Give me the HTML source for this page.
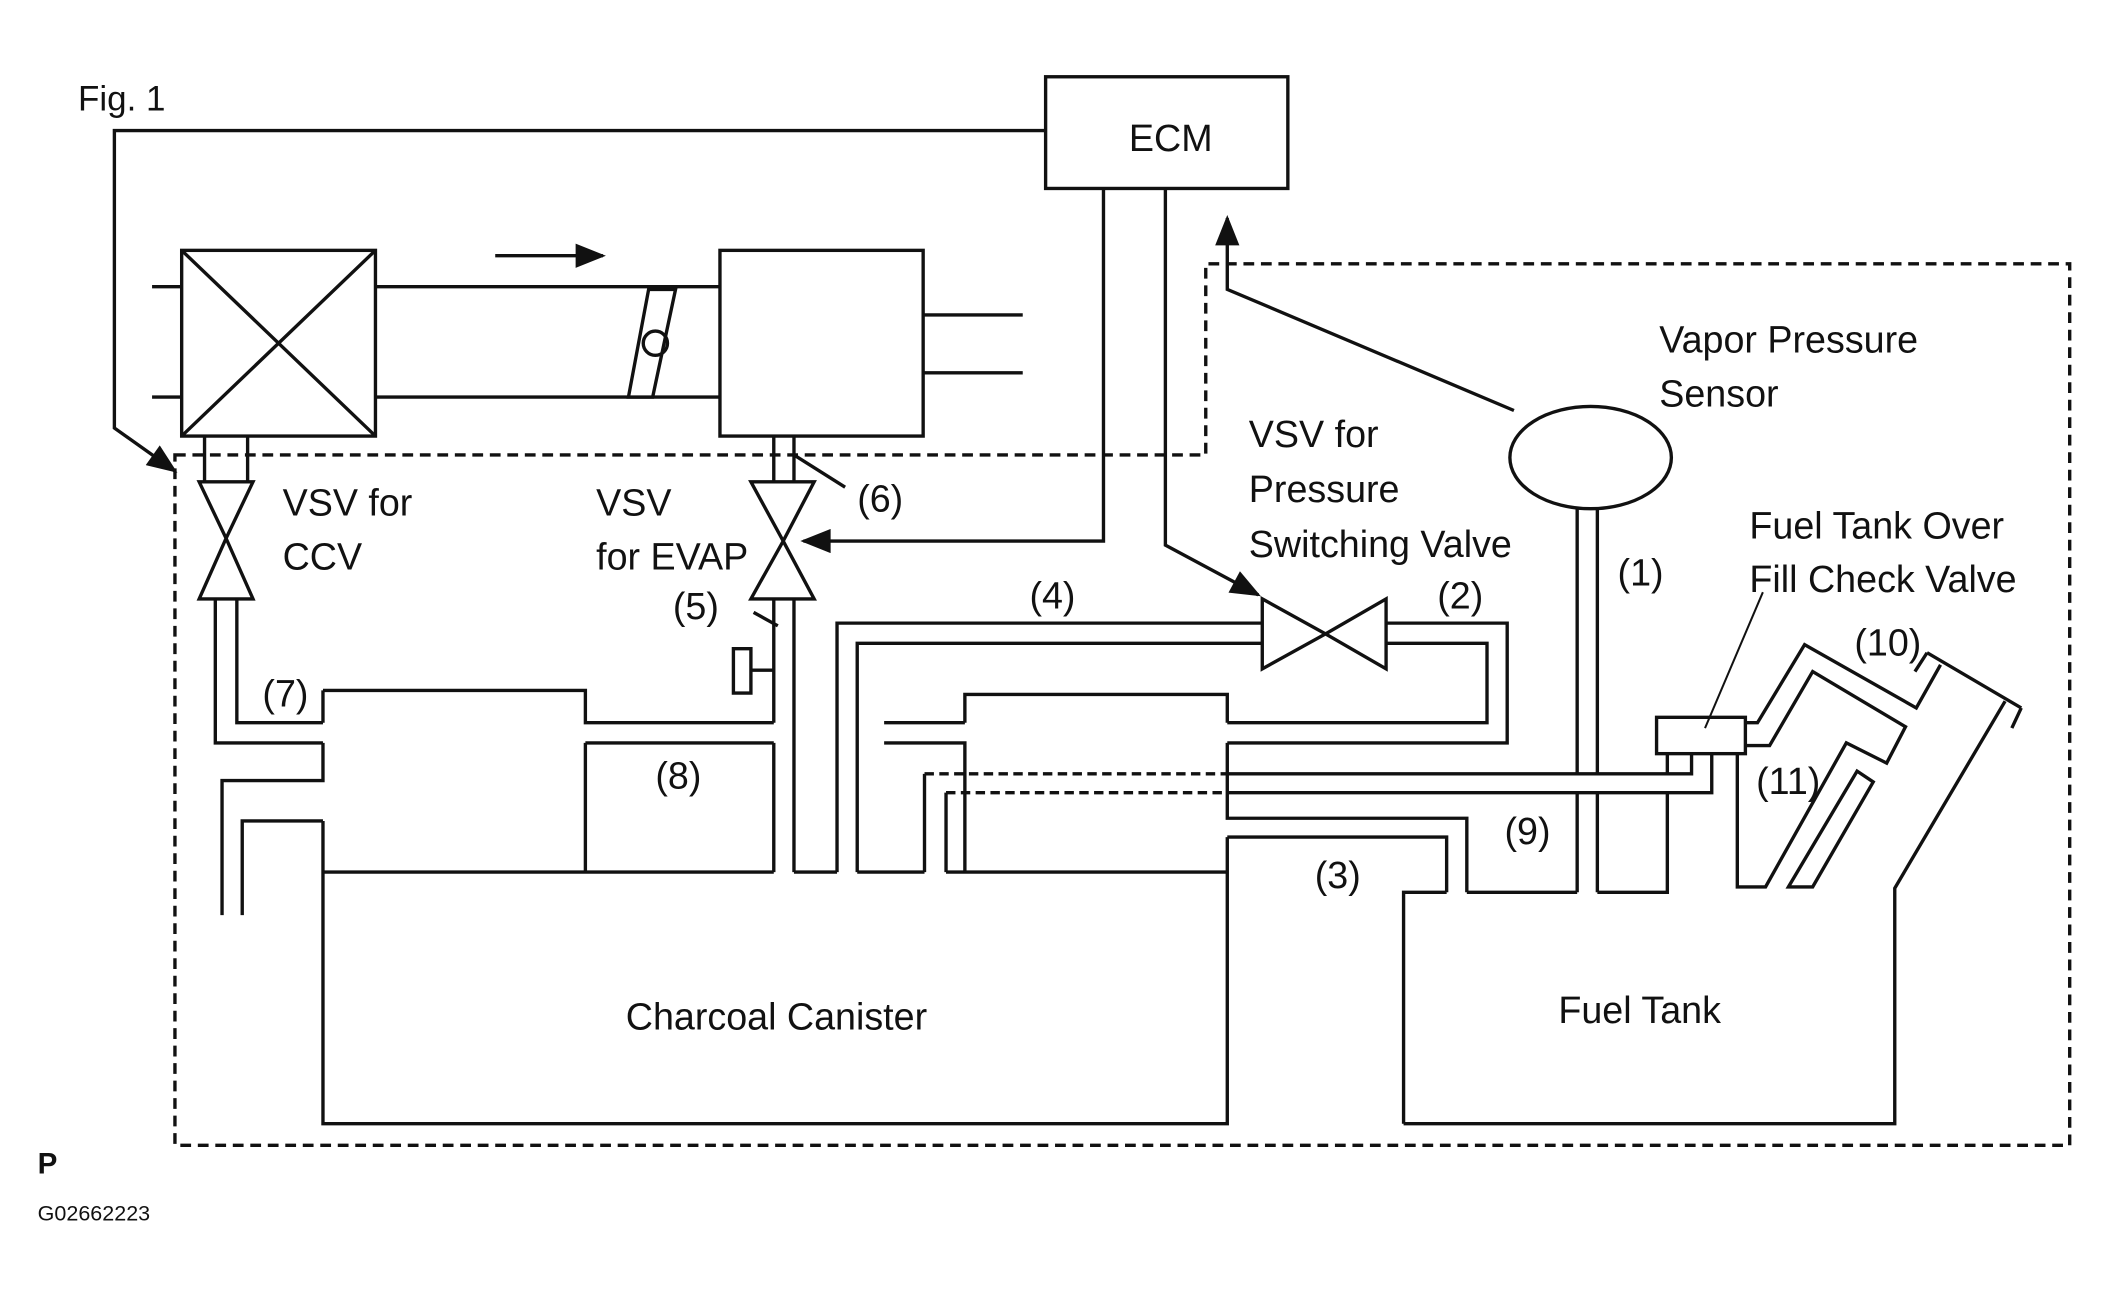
<!DOCTYPE html>
<html><head><meta charset="utf-8"><style>
html,body{margin:0;padding:0;background:#fff}
svg{display:block}
text{font-family:"Liberation Sans",Arial,sans-serif;fill:#111}
</style></head><body>
<svg width="2102" height="1292" viewBox="0 0 1562 960" xmlns="http://www.w3.org/2000/svg">
<defs>
<marker id="b" viewBox="0 0 10 8" refX="9" refY="4" markerWidth="30" markerHeight="18" orient="auto" markerUnits="userSpaceOnUse"><path d="M0,0 L10,4 L0,8 z" fill="#111"/></marker></defs>
<g fill="none" stroke="#111" stroke-width="2.5">
<path d="M130,338 L896,338 L896,196 L1538,196 L1538,851 L130,851 Z" stroke-dasharray="8,5"/>
<rect x="777" y="57" width="180" height="83"/>
<path d="M777,97 L85,97 L85,318 L130,350" marker-end="url(#b)"/>
<path d="M820,140 L820,402 L597,402" marker-end="url(#b)"/>
<path d="M866,140 L866,405 L935,442" marker-end="url(#b)"/>
<path d="M1125,305 L912,215 L912,162" marker-end="url(#b)"/>
<rect x="135" y="186" width="144" height="138" fill="#fff"/>
<path d="M135,186 L279,324 M279,186 L135,324 M113,213 L135,213 M113,295 L135,295"/>
<path d="M279,213 L535,213 M279,295 L535,295"/>
<path d="M368,190 L448,190" marker-end="url(#b)"/>
<path d="M482,215 L502,215 L485,295 L467,295 Z" fill="#fff"/>
<circle cx="487" cy="255" r="9"/>
<rect x="535" y="186" width="151" height="138" fill="#fff"/>
<path d="M686,234 L760,234 M686,277 L760,277"/>
<path d="M152,324 L152,358 M184,324 L184,358"/>
<path d="M148,358 L188,358 L168,400 Z M168,400 L148,445 L188,445 Z"/>
<path d="M160,445 L160,552 L240,552 M176,445 L176,537 L240,537"/>
<path d="M575,324 L575,358 M590,324 L590,358"/>
<path d="M558,358 L605,358 L582,402 Z M582,402 L558,445 L605,445 Z"/>
<path d="M575,445 L575,537 M590,445 L590,648 M575,552 L575,648"/>
<path d="M575,498 L558,498 M545,482 L558,482 L558,515 L545,515 Z"/>
<path d="M560,455 L578,465"/>
<path d="M590,338 L628,362"/>
<path d="M240,513 L435,513 L435,537 L575,537 M435,552 L575,552 M435,552 L435,648"/>
<path d="M240,513 L240,537 M240,552 L240,580 L165,580 L165,680 M240,610 L180,610 L180,680 M240,610 L240,835 L912,835 L912,622"/>
<path d="M240,648 L575,648 M590,648 L622,648 M637,648 L687,648 M703,648 L912,648"/>
<path d="M622,648 L622,463 L938,463 M637,648 L637,478 L938,478"/>
<path d="M938,445 L938,497 L985,471 Z M1030,445 L1030,497 L985,471 Z"/>
<path d="M1030,463 L1120,463 L1120,552 L912,552 M1030,478 L1105,478 L1105,537 L912,537"/>
<path d="M717,537 L717,516 L912,516 L912,537 M657,537 L717,537 M657,552 L717,552 L717,648"/>
<path d="M687,648 L687,575 M703,648 L703,589"/>
<path d="M687,575 L912,575 M703,589 L912,589" stroke-dasharray="7,4"/>
<path d="M912,575 L1239,575 L1239,560 M1257,560 L1257,575 L1239,575 M912,589 L1272,589 L1272,560"/>
<path d="M912,552 L912,608 L1090,608 L1090,663 M912,622 L1075,622 L1075,663"/>
<path d="M1043,835 L1043,663 L1075,663 M1090,663 L1172,663 M1187,663 L1239,663 L1239,589"/>
<path d="M1043,835 L1408,835 L1408,660 L1490,521 M1502,526 L1495,541 M1432,485 L1502,526"/>
<path d="M1291,560 L1291,659 L1312,659 L1372,552 L1402,567 L1416,540 L1347,499 L1315,554 L1297,554"/>
<path d="M1297,537 L1306,537 L1341,479 L1424,526 L1442,494 M1432,485 L1423,499"/>
<path d="M1329,659 L1380,573 L1392,581 L1347,659 Z"/>
<ellipse cx="1182" cy="340" rx="60" ry="38" fill="#fff"/>
<path d="M1172,378 L1172,575 M1187,378 L1187,575 M1172,589 L1172,663 M1187,589 L1187,663"/>
<rect x="1231" y="533" width="66" height="27" fill="#fff"/>
<path d="M1267,541 L1310,440" stroke-width="1.5"/>
</g>
<g font-size="28">
<text x="58" y="82" font-size="26">Fig. 1</text>
<text x="870" y="112" text-anchor="middle">ECM</text>
<text x="210" y="383">VSV for</text>
<text x="210" y="423">CCV</text>
<text x="443" y="383">VSV</text>
<text x="443" y="423">for EVAP</text>
<text x="637" y="380">(6)</text>
<text x="500" y="460">(5)</text>
<text x="765" y="452">(4)</text>
<text x="1068" y="452">(2)</text>
<text x="195" y="525">(7)</text>
<text x="487" y="586">(8)</text>
<text x="1118" y="627">(9)</text>
<text x="977" y="660">(3)</text>
<text x="1202" y="435">(1)</text>
<text x="1378" y="487">(10)</text>
<text x="1305" y="590">(11)</text>
<text x="928" y="332">VSV for</text>
<text x="928" y="373">Pressure</text>
<text x="928" y="414">Switching Valve</text>
<text x="1233" y="262">Vapor Pressure</text>
<text x="1233" y="302">Sensor</text>
<text x="1300" y="400">Fuel Tank Over</text>
<text x="1300" y="440">Fill Check Valve</text>
<text x="465" y="765">Charcoal Canister</text>
<text x="1158" y="760">Fuel Tank</text>
<text x="28" y="872" font-size="22" font-weight="bold">P</text>
<text x="28" y="907" font-size="16">G02662223</text>
</g>
</svg>
</body></html>
